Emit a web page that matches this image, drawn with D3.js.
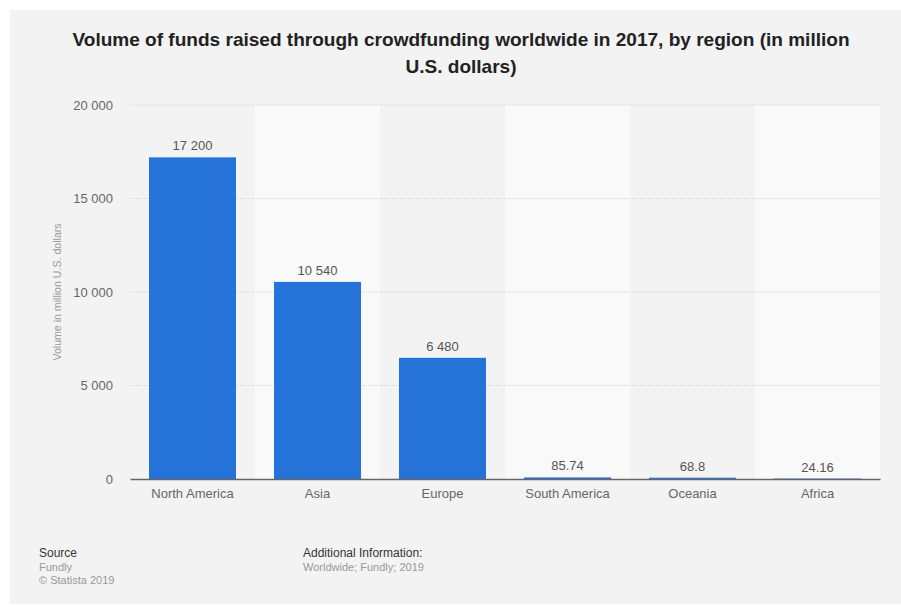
<!DOCTYPE html>
<html>
<head>
<meta charset="utf-8">
<script src="https://cdn.jsdelivr.net/npm/d3@7"></script>
<style>
  html, body { margin: 0; padding: 0; background: #ffffff; }
  svg { display: block; font-family: "Liberation Sans", Arial, Helvetica, sans-serif; }
</style>
</head>
<body>
<svg id="chart" width="901" height="607"></svg>
<script>
// Crowdfunding volume by region, 2017 (million U.S. dollars)
const regions = ["North America", "Asia", "Europe", "South America", "Oceania", "Africa"];
const volumes = [17200, 10540, 6480, 85.74, 68.8, 24.16];
const yTicks = [0, 5000, 10000, 15000, 20000];

const titleLines = [
  "Volume of funds raised through crowdfunding worldwide in 2017, by region (in million",
  "U.S. dollars)"
];
const yAxisTitle = "Volume in million U.S. dollars";

const svg = d3.select("#chart");
const W = 901, H = 607;
const plot = { left: 130, right: 880, top: 105, bottom: 479 };

// numbers use a space as thousands separator
const locale = d3.formatLocale({ decimal: ".", thousands: " ", grouping: [3], currency: ["$", ""] });
const fmtInt = locale.format(",.0f");
const fmtVal = v => Number.isInteger(v) ? fmtInt(v) : String(v);

// panel background
svg.append("rect").attr("x", 10).attr("y", 10).attr("width", W - 10).attr("height", H - 13)
  .attr("fill", "#f3f3f3");

const x = d3.scaleBand().domain(regions).range([plot.left, plot.right]).paddingInner(0).paddingOuter(0);
const y = d3.scaleLinear().domain([0, 20000]).range([plot.bottom, plot.top]);

// alternating column stripes
svg.append("g").selectAll("rect").data(regions.filter((d, i) => i % 2 === 1)).join("rect")
  .attr("x", d => x(d)).attr("y", plot.top)
  .attr("width", x.bandwidth()).attr("height", plot.bottom - plot.top)
  .attr("fill", "#f9f9f9");

// gridlines
svg.append("g").selectAll("line").data(yTicks.filter(t => t > 0)).join("line")
  .attr("x1", plot.left).attr("x2", plot.right)
  .attr("y1", d => y(d)).attr("y2", d => y(d))
  .attr("stroke", "#d6d6d6").attr("stroke-width", 1).attr("stroke-dasharray", "1,1");

// y axis labels
const yAxis = d3.axisLeft(y).tickValues(yTicks).tickFormat(fmtInt).tickSize(0).tickPadding(0);
const gy = svg.append("g").attr("transform", `translate(113,0)`).call(yAxis);
gy.select(".domain").remove();
gy.selectAll("text").attr("fill", "#666").style("font-size", "13px")
  .style("font-family", "'Liberation Sans', Arial, sans-serif");

// bars
const barPad = 19;
svg.append("g").selectAll("rect").data(volumes).join("rect")
  .attr("x", (d, i) => x(regions[i]) + barPad)
  .attr("width", x.bandwidth() - 2 * barPad)
  .attr("y", d => y(d))
  .attr("height", d => y(0) - y(d))
  .attr("fill", "#2573d9");

// value labels
svg.append("g").selectAll("text").data(volumes).join("text")
  .attr("x", (d, i) => x(regions[i]) + x.bandwidth() / 2)
  .attr("y", d => y(d) - 7)
  .attr("text-anchor", "middle")
  .attr("fill", "#555").style("font-size", "13px")
  .text(fmtVal);

// baseline axis
const xAxis = d3.axisBottom(x).tickSize(0).tickPadding(10);
const gx = svg.append("g").attr("transform", `translate(0,${plot.bottom})`).call(xAxis);
gx.select(".domain").attr("stroke", "#666").attr("stroke-width", 1.5);
gx.selectAll("text").attr("fill", "#666").style("font-size", "13px")
  .style("font-family", "'Liberation Sans', Arial, sans-serif");

// y axis title
svg.append("text")
  .attr("transform", "translate(61,292) rotate(-90)")
  .attr("text-anchor", "middle")
  .attr("fill", "#999").style("font-size", "10.6px")
  .text(yAxisTitle);

// title
const titleG = svg.append("g");
const tl = titleG.selectAll("text").data(titleLines).join("text")
  .attr("x", 0).attr("y", (d, i) => 46 + i * 27)
  .attr("text-anchor", "middle")
  .attr("fill", "#222").style("font-size", "18px").style("font-weight", "bold")
  .text(d => d);
const w0 = tl.nodes()[0].getComputedTextLength();
const sx = 778 / w0;
titleG.attr("transform", `translate(461,0) scale(${sx},1)`);

// footer
const foot = svg.append("g").style("font-size", "12px");
foot.append("text").attr("x", 39).attr("y", 557).attr("fill", "#333").text("Source");
foot.append("text").attr("x", 39).attr("y", 571).attr("fill", "#999").style("font-size", "11px").text("Fundly");
foot.append("text").attr("x", 39).attr("y", 584).attr("fill", "#999").style("font-size", "11px").text("\u00a9 Statista 2019");
foot.append("text").attr("x", 303).attr("y", 557).attr("fill", "#333").text("Additional Information:");
foot.append("text").attr("x", 303).attr("y", 571).attr("fill", "#999").style("font-size", "11px").text("Worldwide; Fundly; 2019");
</script>
</body>
</html>
